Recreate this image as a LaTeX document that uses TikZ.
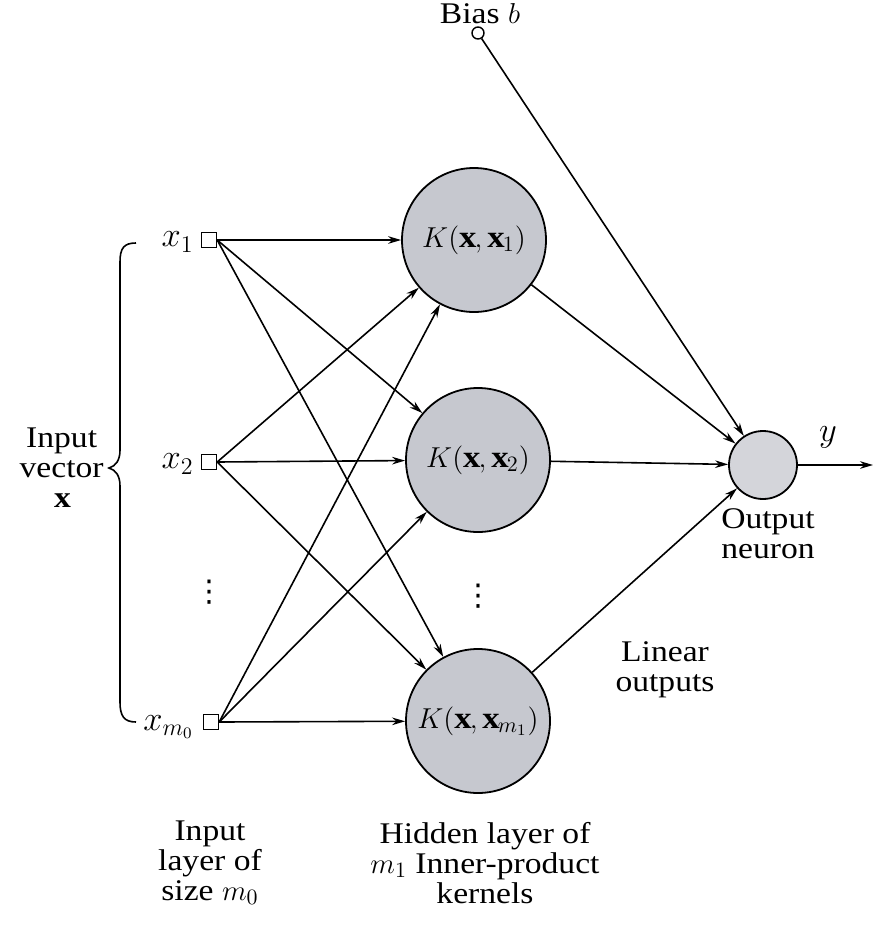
\documentclass[tikz,border=0pt]{standalone}
\usepackage{fontspec}
\setmainfont{Liberation Serif}[FakeStretch=1.12]
\newfontfamily\djv{DejaVu Sans}
\usetikzlibrary{arrows.meta}
\definecolor{kgray}{RGB}{198,200,207}
\definecolor{ogray}{RGB}{212,213,218}
\begin{document}
\begin{tikzpicture}[x=0.5pt,y=-0.5pt,
  font=\fontsize{15}{15}\selectfont,
  mth/.style={font=\fontsize{16.5}{17}\selectfont},
  inbox/.style={draw, line width=0.7pt, fill=white, minimum size=7.5pt, inner sep=0pt},
  kernel/.style={circle, draw, line width=0.9pt, fill=kgray, minimum size=72pt, inner sep=0pt, font=\fontsize{15.5}{16}\selectfont},
  outn/.style={circle, draw, line width=0.9pt, fill=ogray, minimum size=34pt, inner sep=0pt},
  biasn/.style={circle, draw, line width=0.7pt, fill=white, minimum size=6pt, inner sep=0pt},
  conn/.style={line width=0.8pt, -{Stealth[length=6.5pt,width=3.8pt]}},
  plain/.style={line width=0.8pt},
  lbl/.style={align=center, inner sep=0pt},
  dotsn/.style={inner sep=0pt, font=\djv\fontsize{15}{15}\selectfont}]
\useasboundingbox (0,0) rectangle (878,928);
% nodes
\node[inbox] (x1) at (209,240) {};
\node[inbox] (x2) at (209,462) {};
\node[inbox] (xm) at (211,722) {};
\node[kernel] (h1) at (474,240) {$K(\mathbf{x},\mathbf{x}_1)$};
\node[kernel] (h2) at (478,460) {$K(\mathbf{x},\mathbf{x}_2)$};
\node[kernel] (h3) at (478,721) {$K(\mathbf{x},\mathbf{x}_{m_1})$};
\node[outn] (out) at (763,465) {};
\node[biasn] (bias) at (478,33) {};
\coordinate (yend) at (873,465);
% labels
\node[lbl] (biaslbl) at (480,14) {Bias $b$};
\node[lbl, mth, anchor=east] (lx1) at (194,242) {$x_1$};
\node[lbl, mth, anchor=east] (lx2) at (194,464) {$x_2$};
\node[lbl, mth, anchor=east] (lxm) at (194,727) {$x_{m_0}$};
\node[dotsn] (dots1) at (209,592) {⋮};
\node[dotsn] (dots2) at (478,596) {⋮};
\node[lbl, mth] (ylbl) at (828,437) {$y$};
\node[lbl] (outlbl) at (768,534) {Output\\neuron};
\node[lbl] (linlbl) at (665,670) {Linear\\outputs};
\node[lbl] (inlbl) at (210,863) {Input\\layer of\\size $m_0$};
\node[lbl] (hidlbl) at (485,863) {Hidden layer of\\$m_1$ Inner-product\\kernels};
\node[lbl, anchor=east] (veclbl) at (104,468) {Input\\vector\\$\mathbf{x}$};
% brace
\draw[plain] (136,243) .. controls (124,243) and (120,248) .. (120,262)
  -- (120,450) .. controls (120,460) and (116,466) .. (109,468)
  .. controls (116,470) and (120,476) .. (120,486)
  -- (120,702) .. controls (120,716) and (124,722) .. (136,722);
% connections
\foreach \s in {x1,x2,xm}{
  \foreach \t in {h1,h2,h3}{
    \draw[conn] (\s.east) -- (\t);
  }
}
\draw[conn] (h1) -- (out);
\draw[conn] (h2) -- (out);
\draw[conn] (h3) -- (out);
\draw[conn] (bias) -- (out);
\draw[conn] (out) -- (yend);
\end{tikzpicture}
\end{document}
